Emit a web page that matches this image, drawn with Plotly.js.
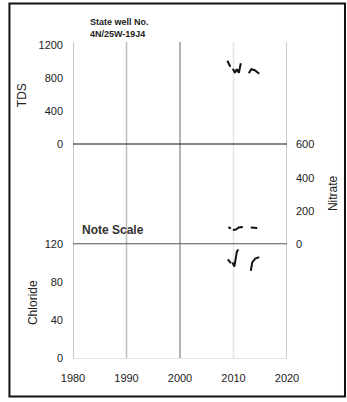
<!DOCTYPE html>
<html>
<head>
<meta charset="utf-8">
<script src="https://cdn.plot.ly/plotly-3.0.1.min.js"></script>
<style>
  html, body { margin: 0; padding: 0; background: #fff; }
  #chart { width: 347px; height: 402px; }
</style>
</head>
<body>
<div id="chart"></div>
<script>
// Decade ticks along the shared time axis
const xTicks = [1980, 1990, 2000, 2010, 2020];

// Total dissolved solids (mg/L); null marks a gap between sampling runs
const tdsYears = [2008.85, 2009.41, null, 2009.88, 2010.25, 2010.62, 2011.0, 2011.37, null, 2012.86, 2013.33, 2013.98, 2014.82];
const tdsValues = [1013, 941, null, 917, 869, 911, 869, 983, null, 863, 911, 899, 857];
const tdsTicks = [0, 400, 800, 1200];

// Nitrate (mg/L)
const nitrateYears = [2009.04, 2009.51, null, 2009.88, 2010.44, 2011.0, 2011.75, null, 2013.23, 2014.44];
const nitrateValues = [104, 95, null, 86, 89, 101, 104, null, 101, 98];
const nitrateTicks = [0, 200, 400, 600];

// Chloride (mg/L)
const chlorideYears = [2008.95, 2009.51, null, 2009.79, 2010.16, 2010.62, 2010.9, null, 2013.23, 2013.51, 2014.07, 2014.82];
const chlorideValues = [104, 100, null, 101, 96.5, 112, 114.5, null, 92, 101, 105, 106.5];
const chlorideTicks = [0, 40, 80, 120];

const FONT = 'Liberation Sans, Arial, sans-serif';
const INK = '#222';

const lineStyle = { color: '#111', width: 2 };

const traces = [
  { x: tdsYears, y: tdsValues, xaxis: 'x', yaxis: 'y', mode: 'lines', line: lineStyle, connectgaps: false, hoverinfo: 'skip' },
  { x: nitrateYears, y: nitrateValues, xaxis: 'x', yaxis: 'y2', mode: 'lines', line: lineStyle, connectgaps: false, hoverinfo: 'skip' },
  { x: chlorideYears, y: chlorideValues, xaxis: 'x', yaxis: 'y3', mode: 'lines', line: lineStyle, connectgaps: false, hoverinfo: 'skip' }
];

// Vertical decade rules, the 2010 one drawn faintly
const gridColors = { 1980: '#b4b4b4', 1990: '#bcbcbc', 2000: '#9a9a9a', 2010: '#e6e6e6', 2020: '#bcbcbc' };
const shapes = xTicks.map(t => ({
  type: 'line', xref: 'x', yref: 'paper', x0: t, x1: t, y0: 0, y1: 1,
  line: { color: gridColors[t], width: 1.5 }, layer: 'below'
}));

// Heavy rules separating the panels
shapes.push({ type: 'line', xref: 'x domain', yref: 'y', x0: 0, x1: 1, y0: 0, y1: 0, line: { color: '#111', width: 2 } });
shapes.push({ type: 'line', xref: 'x domain', yref: 'y2', x0: 0, x1: 1, y0: 0, y1: 0, line: { color: '#555', width: 2 } });

// Frame around the whole figure
shapes.push({ type: 'rect', xref: 'paper', yref: 'paper', x0: -0.297, x1: 1.271, y0: -0.122, y1: 1.122, line: { color: '#111', width: 2 }, fillcolor: 'rgba(0,0,0,0)' });

const axisFont = { family: FONT, size: 11, color: INK };

const layout = {
  width: 347,
  height: 402,
  margin: { l: 73, r: 60, t: 42, b: 44 },
  paper_bgcolor: '#fff',
  plot_bgcolor: '#fff',
  showlegend: false,
  xaxis: {
    range: [1980, 2020], tickvals: xTicks, ticks: '', showgrid: false, zeroline: false,
    anchor: 'y3', showline: true, linecolor: '#e2e2e2', linewidth: 1,
    tickfont: axisFont, ticklabelstandoff: 10, fixedrange: true
  },
  yaxis: {
    domain: [0.6753, 1], range: [0, 1240], tickvals: tdsTicks, ticks: '', anchor: 'x',
    showgrid: false, zeroline: false, tickfont: axisFont, ticklabelstandoff: 9, fixedrange: true
  },
  yaxis2: {
    domain: [0.3598, 0.6753], range: [0, 600], tickvals: nitrateTicks, ticks: '', anchor: 'x', side: 'right',
    showgrid: false, zeroline: false, tickfont: axisFont, ticklabelstandoff: 8, fixedrange: true
  },
  yaxis3: {
    domain: [0, 0.3598], range: [0, 120], tickvals: chlorideTicks, ticks: '', anchor: 'x',
    showgrid: false, zeroline: false, tickfont: axisFont, ticklabelstandoff: 9, fixedrange: true
  },
  shapes: shapes,
  annotations: [
    { xref: 'paper', yref: 'paper', x: 0.068, y: 1.043, xanchor: 'left', yanchor: 'middle', align: 'left', showarrow: false,
      text: '<b>State well No.<br>4N/25W-19J4</b>', font: { family: FONT, size: 9, color: INK } },
    { xref: 'paper', yref: 'paper', x: 0.032, y: 0.405, xanchor: 'left', yanchor: 'middle', showarrow: false,
      text: '<b>Note Scale</b>', font: { family: FONT, size: 12, color: '#333' } },
    { xref: 'paper', yref: 'paper', x: -0.238, y: 0.832, xanchor: 'center', yanchor: 'middle', textangle: -90, showarrow: false,
      text: 'TDS', font: { family: FONT, size: 12, color: INK } },
    { xref: 'paper', yref: 'paper', x: -0.187, y: 0.177, xanchor: 'center', yanchor: 'middle', textangle: -90, showarrow: false,
      text: 'Chloride', font: { family: FONT, size: 12, color: INK } },
    { xref: 'paper', yref: 'paper', x: 1.215, y: 0.522, xanchor: 'center', yanchor: 'middle', textangle: -90, showarrow: false,
      text: 'Nitrate', font: { family: FONT, size: 12, color: INK } }
  ]
};

Plotly.newPlot('chart', traces, layout, { staticPlot: true, displayModeBar: false });
</script>
</body>
</html>
